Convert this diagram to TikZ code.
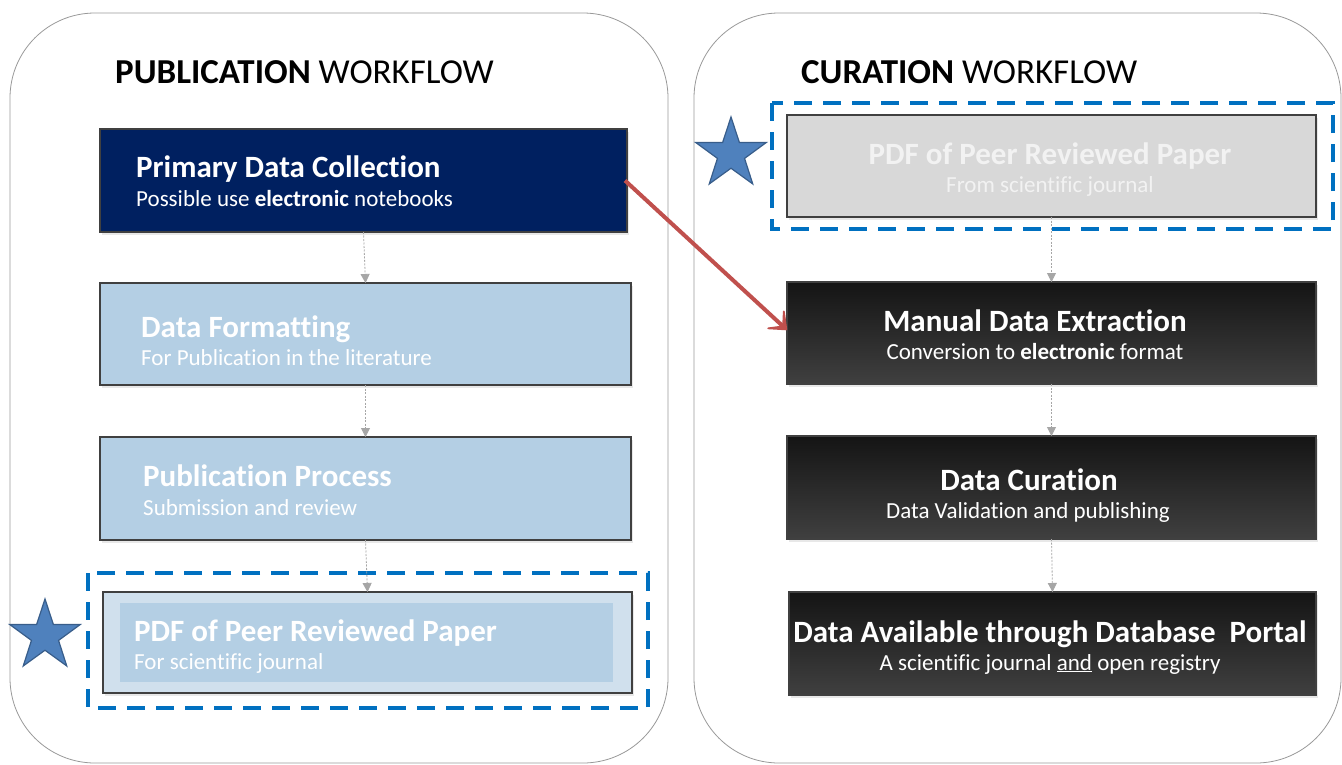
\documentclass[tikz,border=0pt]{standalone}
\usepackage{fontspec}
\setmainfont{Carlito}[Ligatures={NoCommon}]
\usetikzlibrary{arrows.meta,shapes.geometric,shadows}
\definecolor{navy}{HTML}{002060}
\definecolor{lblue}{HTML}{B4CFE4}
\definecolor{lblueout}{HTML}{D0E0ED}
\definecolor{dblue}{HTML}{0070C0}
\definecolor{starfill}{HTML}{4F81BD}
\definecolor{starline}{HTML}{385D8A}
\definecolor{redarr}{HTML}{C0504D}
\definecolor{pdfgrey}{HTML}{D8D8D8}
\definecolor{conngrey}{HTML}{A6A6A6}
\tikzset{
  panel/.style={draw=black!40, line width=0.8pt, rounded corners=85pt},
  stepbox/.style={draw=black!75, line width=1.2pt, anchor=north west, inner sep=0pt, outer sep=0pt,
     drop shadow={shadow xshift=2pt, shadow yshift=-3pt, opacity=0.18}},
  darkbox/.style={stepbox, top color=black!92, bottom color=black!75},
  hdr/.style={anchor=base west, inner sep=0pt, font=\fontsize{35}{40}\selectfont},
  ttl/.style={inner sep=0pt, text=white, font=\fontsize{31}{36}\selectfont\bfseries},
  sub/.style={inner sep=0pt, text=white, font=\fontsize{23}{28}\selectfont},
  conn/.style={draw=conngrey, line width=0.8pt, dash pattern=on 2pt off 1.5pt,
     -{Triangle[width=9pt,length=9pt,fill=conngrey,sep=0pt]}},
  hl/.style={draw=dblue, line width=4.5pt, dash pattern=on 18pt off 11pt},
  mystar/.style={star, star points=5, star point ratio=2.6, minimum size=74pt, inner sep=0pt,
     fill=starfill, draw=starline, line width=1.2pt},
  redlink/.style={draw=redarr, line width=4pt,
     -{Stealth[length=22pt,width=36pt,inset=15pt,round]}}
}
\begin{document}
\begin{tikzpicture}[x=1pt,y=-1pt]
\useasboundingbox (0,0) rectangle (1342,764);
\fill[white] (0,0) rectangle (1342,764);
% panels
\draw[panel] (10,13) rectangle (668,763);
\draw[panel] (694,13) rectangle (1341,763);
% headers
\node[hdr] (h1) at (115,83) {\textbf{PUBLICATION} WORKFLOW};
\node[hdr] (h2) at (801,83) {\textbf{CURATION} WORKFLOW};
% left boxes
\node[stepbox, fill=navy, minimum width=527pt, minimum height=103pt] (p1) at (100,129) {};
\node[stepbox, fill=lblue, minimum width=531pt, minimum height=102pt] (p2) at (100,283) {};
\node[stepbox, fill=lblue, minimum width=531pt, minimum height=103pt] (p3) at (100,437) {};
\node[stepbox, fill=lblueout, minimum width=529pt, minimum height=101pt] (p4) at (103,592) {};
\fill[lblue] (120,603) rectangle (613,682);
\draw[hl] (88,573) rectangle (648,708);
% left texts
\node[ttl, anchor=base west] (t1) at (136,177) {Primary Data Collection};
\node[sub, anchor=base west] (s1) at (136,206) {Possible use \textbf{electronic} notebooks};
\node[ttl, anchor=base west] (t2) at (141,337) {Data Formatting};
\node[sub, anchor=base west] (s2) at (141,365) {For Publication in the literature};
\node[ttl, anchor=base west] (t3) at (143,486) {Publication Process};
\node[sub, anchor=base west] (s3) at (143,515) {Submission and review};
\node[ttl, anchor=base west] (t4) at (134,641) {PDF of Peer Reviewed Paper};
\node[sub, anchor=base west] (s4) at (134,669) {For scientific journal};
% right boxes
\node[stepbox, fill=pdfgrey, minimum width=529pt, minimum height=102pt] (r1) at (787,115) {};
\draw[hl] (772,103) rectangle (1333,229);
\node[darkbox, minimum width=529pt, minimum height=102pt] (r2) at (787,282) {};
\node[darkbox, minimum width=529pt, minimum height=103pt] (r3) at (787,436) {};
\node[darkbox, minimum width=527pt, minimum height=103pt] (r4) at (789,592) {};
% right texts
\node[ttl, anchor=base, text=black!5] (u1) at (1050,164) {PDF of Peer Reviewed Paper};
\node[sub, anchor=base, text=black!5] (v1) at (1050,192) {From scientific journal};
\node[ttl, anchor=base] (u2) at (1035,331) {Manual Data Extraction};
\node[sub, anchor=base] (v2) at (1035,359) {Conversion to \textbf{electronic} format};
\node[ttl, anchor=base] (u3) at (1029,490) {Data Curation};
\node[sub, anchor=base] (v3) at (1028,518) {Data Validation and publishing};
\node[ttl, anchor=base] (u4) at (1050,642) {Data Available through Database\ \ Portal};
\node[sub, anchor=base] (v4) at (1050,670) {A scientific journal \underline{and} open registry};
% stars
\node[mystar] (star1) at (45,636) {};
\node[mystar] (star2) at (731,154) {};
% connectors
\draw[conn] (p1.south) -- (p2.north);
\draw[conn] (p2.south) -- (p3.north);
\draw[conn] (p3.south) -- (p4.north);
\draw[conn] (r1.south) -- (r2.north);
\draw[conn] (r2.south) -- (r3.north);
\draw[conn] (r3.south) -- (r4.north);
\draw[redlink] ([xshift=-2pt]p1.east) -- ([yshift=3pt]r2.west);
\end{tikzpicture}
\end{document}
